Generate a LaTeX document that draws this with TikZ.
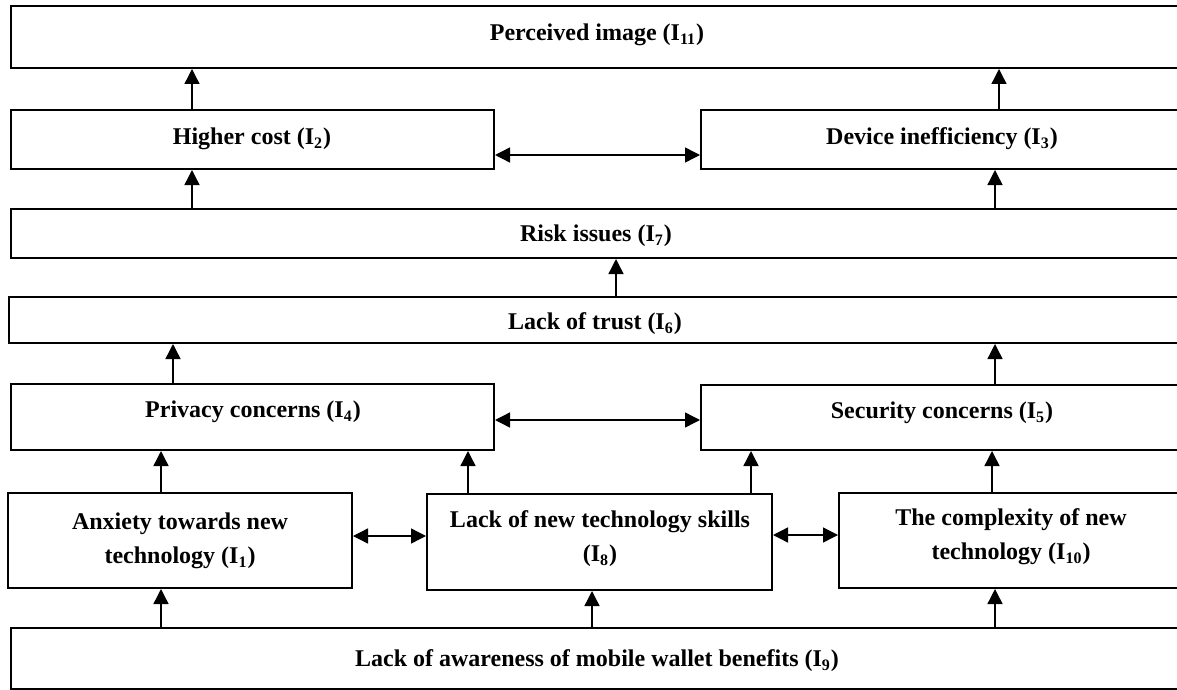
\documentclass[tikz,border=0pt]{standalone}
\usepackage{fontspec}
\setmainfont{Liberation Serif}
\usetikzlibrary{arrows.meta,calc}
\newcommand\mkbox[5]{\node[box,minimum width={(#4-#2)*0.5pt},minimum height={(#5-#3)*0.5pt}] (#1) at ({(#2+#4)/2},{(#3+#5)/2}) {};}
\begin{document}
\begin{tikzpicture}[x=0.5pt,y=-0.5pt,
  box/.style={draw,line width=1pt,inner sep=0pt,rectangle},
  lbl/.style={font=\bfseries\fontsize{12}{17}\selectfont,align=center,inner sep=0pt},
  arr/.style={line width=0.7pt,-{Triangle[length=7.5pt,width=7.5pt]}},
  dbl/.style={line width=0.7pt,{Triangle[length=7.5pt,width=7.5pt]}-{Triangle[length=7.5pt,width=7.5pt]}}]
\useasboundingbox (0,0) rectangle (1177,690);
\clip (0,0) rectangle (1177,690);
% boxes
\mkbox{P}{11}{6}{1182}{68}
\mkbox{HC}{11}{110}{494}{169}
\mkbox{DI}{701}{110}{1182}{169}
\mkbox{RI}{11}{209}{1182}{258}
\mkbox{LT}{9}{297}{1182}{343}
\mkbox{PC}{11}{384}{494}{450}
\mkbox{SC}{701}{385}{1182}{450}
\mkbox{AX}{8}{493}{352}{588}
\mkbox{SK}{427}{494}{772}{590}
\mkbox{CX}{839}{493}{1182}{588}
\mkbox{AW}{11}{628}{1182}{689}
% labels
\node[lbl] (tP) at (597,35) {Perceived image (I\textsubscript{11})};
\node[lbl] (tHC) at (252,139) {Higher cost (I\textsubscript{2})};
\node[lbl] (tDI) at (942,139) {Device inefficiency (I\textsubscript{3})};
\node[lbl] (tRI) at (596,236) {Risk issues (I\textsubscript{7})};
\node[lbl] (tLT) at (595,324) {Lack of trust (I\textsubscript{6})};
\node[lbl] (tPC) at (253,412) {Privacy concerns (I\textsubscript{4})};
\node[lbl] (tSC) at (942,413) {Security concerns (I\textsubscript{5})};
\node[lbl] (tAX) at (180,541) {Anxiety towards new\\technology (I\textsubscript{1})};
\node[lbl] (tSK) at (600,539) {Lack of new technology skills\\(I\textsubscript{8})};
\node[lbl] (tCX) at (1011,537) {The complexity of new\\technology (I\textsubscript{10})};
\node[lbl] (tAW) at (597,661) {Lack of awareness of mobile wallet benefits (I\textsubscript{9})};
% vertical arrows
\coordinate (v1) at ($(HC.north west)+(182,0)$);
\draw[arr] (v1) -- (v1 |- P.south);
\coordinate (v2) at ($(DI.north west)+(299,0)$);
\draw[arr] (v2) -- (v2 |- P.south);
\coordinate (v3) at ($(RI.north west)+(182,0)$);
\draw[arr] (v3) -- (v3 |- HC.south);
\coordinate (v4) at ($(RI.north west)+(985,0)$);
\draw[arr] (v4) -- (v4 |- DI.south);
\coordinate (v5) at ($(LT.north west)+(608,0)$);
\draw[arr] (v5) -- (v5 |- RI.south);
\coordinate (v6) at ($(PC.north west)+(163,0)$);
\draw[arr] (v6) -- (v6 |- LT.south);
\coordinate (v7) at ($(SC.north west)+(295,0)$);
\draw[arr] (v7) -- (v7 |- LT.south);
\coordinate (v8) at ($(AX.north west)+(154,0)$);
\draw[arr] (v8) -- (v8 |- PC.south);
\coordinate (v9) at ($(SK.north west)+(42,0)$);
\draw[arr] (v9) -- (v9 |- PC.south);
\coordinate (v10) at ($(SK.north west)+(325,0)$);
\draw[arr] (v10) -- (v10 |- SC.south);
\coordinate (v11) at ($(CX.north west)+(154,0)$);
\draw[arr] (v11) -- (v11 |- SC.south);
\coordinate (v12) at ($(AW.north west)+(151,0)$);
\draw[arr] (v12) -- (v12 |- AX.south);
\coordinate (v13) at ($(AW.north west)+(582,0)$);
\draw[arr] (v13) -- (v13 |- SK.south);
\coordinate (v14) at ($(AW.north west)+(985,0)$);
\draw[arr] (v14) -- (v14 |- CX.south);
% horizontal double arrows
\coordinate (h1) at ($(HC.north east)+(0,46)$);
\draw[dbl] (h1) -- (h1 -| DI.west);
\coordinate (h2) at ($(PC.north east)+(0,37)$);
\draw[dbl] (h2) -- (h2 -| SC.west);
\coordinate (h3) at ($(AX.north east)+(0,44)$);
\draw[dbl] (h3) -- (h3 -| SK.west);
\coordinate (h4) at ($(SK.north east)+(0,42)$);
\draw[dbl] (h4) -- (h4 -| CX.west);
\end{tikzpicture}
\end{document}
